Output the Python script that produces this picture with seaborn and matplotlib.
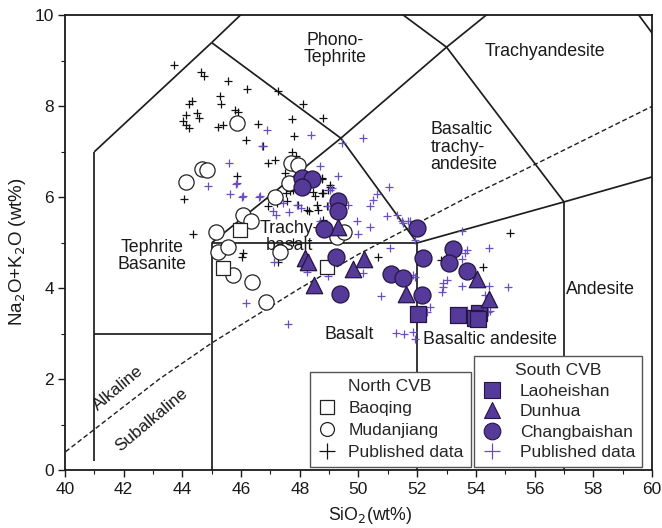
import matplotlib
matplotlib.use("Agg")
import numpy as np
import pandas as pd
import matplotlib.pyplot as plt
import seaborn as sns
from matplotlib.lines import Line2D
from matplotlib.ticker import MultipleLocator

sns.set_style("ticks")
plt.rcParams["font.family"] = ["Liberation Sans", "DejaVu Sans"]

# ---- TAS field boundaries (Le Bas et al., 1986) ----
tas_segments = [
    [(41, 0.2), (41, 7.0)],
    [(41, 3.0), (45, 3.0)],
    [(45, 0.0), (45, 5.0)],
    [(41, 7.0), (45, 9.4)],
    [(45, 9.4), (48.4, 11.5)],
    [(45, 9.4), (49.4, 7.3)],
    [(49.4, 7.3), (53, 9.3)],
    [(53, 9.3), (48.4, 11.5)],
    [(53, 9.3), (57.6, 11.7)],
    [(57.6, 11.7), (63, 7.0)],
    [(45, 5.0), (49.4, 7.3)],
    [(49.4, 7.3), (52, 5.0)],
    [(45, 5.0), (52, 5.0)],
    [(52, 0.0), (52, 5.0)],
    [(52, 5.0), (57, 5.9)],
    [(57, 5.9), (53, 9.3)],
    [(57, 5.9), (63, 7.0)],
    [(57, 0.0), (57, 5.9)],
]

# Alkaline / subalkaline divide (Irvine & Baragar, 1971)
ib_sio2 = [39.2, 40.0, 43.2, 45.0, 48.0, 50.0, 53.7, 55.0, 60.0, 65.0]
ib_alk = [0.0, 0.4, 2.0, 2.8, 4.0, 4.75, 6.0, 6.4, 8.0, 8.8]

# ---- North CVB ----
baoqing_sio2 = [45.96, 45.37, 48.94]
baoqing_alk = [5.29, 4.44, 4.48]

mudanjiang_sio2 = [45.87, 44.66, 44.85, 44.12, 47.69, 47.95, 47.64, 47.15,
                   46.08, 46.34, 45.14, 45.22, 45.56, 45.73, 46.36, 46.84,
                   47.33, 49.26, 49.51]
mudanjiang_alk = [7.63, 6.63, 6.60, 6.33, 6.75, 6.71, 6.31, 6.00,
                  5.62, 5.47, 5.24, 4.81, 4.91, 4.30, 4.13, 3.70,
                  4.79, 5.13, 5.25]

north_pub_sio2 = [43.72, 44.62, 44.74, 45.54, 46.21, 47.25, 48.12, 48.80,
                  44.34, 44.24, 45.28, 45.32, 44.14, 44.49, 44.58, 44.03,
                  44.24, 44.14, 45.79, 45.90, 45.22, 45.39, 46.59, 47.72,
                  47.81, 46.17, 46.76, 47.15, 46.93, 47.72, 47.87, 45.85,
                  44.05, 47.50, 48.77, 49.03, 47.78, 48.52, 48.80, 47.53,
                  46.93, 47.95, 48.58, 47.67, 48.44, 48.75, 48.97, 46.98,
                  47.21, 47.55, 48.23, 48.32, 48.61, 48.94, 48.80, 44.35,
                  46.02, 46.08, 47.27, 47.78, 48.75, 49.03, 50.67, 52.80,
                  54.23, 55.16]
north_pub_alk = [8.90, 8.75, 8.67, 8.56, 8.38, 8.33, 8.05, 7.74,
                 8.11, 8.05, 8.22, 8.05, 7.81, 7.85, 7.74, 7.67,
                 7.52, 7.59, 7.92, 7.87, 7.54, 7.59, 7.62, 7.72,
                 7.35, 7.25, 7.12, 6.82, 6.75, 6.99, 6.91, 6.48,
                 5.96, 6.53, 6.42, 6.27, 6.16, 6.02, 6.09, 6.09,
                 5.80, 5.84, 5.84, 6.13, 6.11, 6.09, 6.16, 5.98,
                 5.87, 5.91, 5.73, 5.71, 5.73, 5.81, 5.51, 5.19,
                 4.70, 4.77, 4.59, 5.03, 6.40, 6.22, 4.69, 4.63,
                 4.47, 5.21]

# ---- South CVB ----
laoheishan_sio2 = [52.02, 53.40, 54.12, 53.98, 54.06]
laoheishan_alk = [3.44, 3.42, 3.45, 3.36, 3.32]

dunhua_sio2 = [49.31, 48.18, 48.29, 49.80, 50.20, 48.48, 51.62, 54.03, 54.46]
dunhua_alk = [5.34, 4.66, 4.57, 4.42, 4.64, 4.08, 3.88, 4.20, 3.76]

changbaishan_sio2 = [48.06, 48.41, 48.06, 49.30, 49.31, 48.82, 49.23, 49.37,
                     51.98, 52.19, 51.10, 51.53, 52.15, 53.23, 53.09, 53.68]
changbaishan_alk = [6.42, 6.40, 6.22, 5.91, 5.69, 5.30, 4.69, 3.87,
                    5.32, 4.66, 4.32, 4.22, 3.86, 4.86, 4.55, 4.39]

south_pub_sio2 = [46.87, 48.40, 49.43, 46.73, 45.60, 44.88, 45.83, 45.62,
                  46.05, 48.69, 49.29, 49.03, 46.64, 47.44, 47.89, 48.97,
                  49.65, 46.02, 49.09, 46.62, 47.19, 47.10, 47.64, 48.03,
                  49.94, 49.99, 49.60, 48.69, 47.12, 48.23, 48.97, 50.14,
                  46.17, 47.61, 47.87, 51.05, 50.64, 50.50, 50.39, 50.96,
                  51.30, 51.70, 51.47, 50.39, 51.07, 51.87, 50.76, 51.28,
                  51.55, 51.87, 51.53, 51.75, 51.92, 53.51, 53.69, 53.63,
                  54.46, 53.51, 53.00, 52.89, 52.89, 52.83, 53.51, 54.46,
                  55.10, 54.31, 51.92, 52.44, 52.32, 54.48, 53.69, 54.42,
                  51.92, 50.16, 45.85]
south_pub_alk = [7.47, 7.37, 7.19, 7.12, 6.75, 6.25, 6.30, 6.07,
                 6.02, 6.68, 6.46, 6.16, 6.02, 5.87, 5.84, 5.80,
                 5.84, 6.00, 6.20, 6.00, 5.62, 5.69, 5.67, 5.76,
                 5.47, 5.20, 5.23, 5.47, 4.59, 4.37, 4.27, 4.33,
                 3.67, 3.22, 6.57, 6.22, 6.08, 5.95, 5.81, 5.58,
                 5.62, 5.47, 5.47, 5.35, 4.88, 4.30, 3.84, 3.03,
                 3.00, 3.05, 5.43, 5.47, 5.07, 5.27, 4.85, 4.77,
                 4.88, 4.64, 4.19, 4.11, 4.03, 3.93, 4.05, 4.05,
                 4.03, 3.86, 4.26, 3.59, 3.49, 3.51, 3.53, 3.49,
                 2.89, 7.30, 6.31]

# ---- field labels ----
field_names = ["Phono-\nTephrite", "Trachyandesite", "Trachy-\nbasalt",
               "Tephrite\nBasanite", "Basalt", "Basaltic andesite", "Andesite"]
field_x = [49.2, 56.35, 47.65, 42.96, 49.7, 54.48, 58.23]
field_y = [9.26, 9.20, 5.12, 4.72, 2.98, 2.87, 3.97]

PURPLE = "#553a9a"
EDGE = "#241640"
LINE = "#1e1e1e"
TXT = "#1a1a1a"

fig = plt.figure(figsize=(6.62, 5.28), dpi=100)
ax = fig.add_axes([0.098, 0.109, 0.887, 0.862])

for seg in tas_segments:
    (x0, y0), (x1, y1) = seg
    ax.plot([x0, x1], [y0, y1], color=LINE, lw=1.25, zorder=1,
            solid_capstyle="butt")
ax.plot(ib_sio2, ib_alk, color=LINE, lw=1.0, ls=(0, (3.5, 2)), zorder=1)

north_pub = pd.DataFrame({"SiO2": north_pub_sio2, "alk": north_pub_alk})
south_pub = pd.DataFrame({"SiO2": south_pub_sio2, "alk": south_pub_alk})
sns.scatterplot(data=north_pub, x="SiO2", y="alk", marker="+", s=40,
                color="#111111", linewidth=0.9, ax=ax, zorder=2, legend=False)
sns.scatterplot(data=south_pub, x="SiO2", y="alk", marker="+", s=40,
                color="#6a4fc0", linewidth=0.9, ax=ax, zorder=2, legend=False)

bq = pd.DataFrame({"SiO2": baoqing_sio2, "alk": baoqing_alk})
mdj = pd.DataFrame({"SiO2": mudanjiang_sio2, "alk": mudanjiang_alk})
sns.scatterplot(data=mdj, x="SiO2", y="alk", marker="o", s=120,
                facecolor="white", edgecolor="#222222", linewidth=0.9,
                ax=ax, zorder=3, legend=False)
sns.scatterplot(data=bq, x="SiO2", y="alk", marker="s", s=110,
                facecolor="white", edgecolor="#222222", linewidth=0.9,
                ax=ax, zorder=3, legend=False)

lhs = pd.DataFrame({"SiO2": laoheishan_sio2, "alk": laoheishan_alk})
dh = pd.DataFrame({"SiO2": dunhua_sio2, "alk": dunhua_alk})
cbs = pd.DataFrame({"SiO2": changbaishan_sio2, "alk": changbaishan_alk})
for df, mk, sz in [(lhs, "s", 130), (dh, "^", 140), (cbs, "o", 150)]:
    sns.scatterplot(data=df, x="SiO2", y="alk", marker=mk, s=sz,
                    color=PURPLE, edgecolor=EDGE, linewidth=0.9,
                    ax=ax, zorder=4, legend=False)

# field names
for name, fx, fy in zip(field_names, field_x, field_y):
    ax.text(fx, fy, name, ha="center", va="center", fontsize=12.8,
            color=TXT, linespacing=1.0, zorder=2)
ax.text(52.45, 7.1, "Basaltic\ntrachy-\nandesite", ha="left", va="center",
        fontsize=12.8, color=TXT, linespacing=1.05, zorder=2)
ax.text(41.8, 1.80, "Alkaline", rotation=40, ha="center", va="center",
        fontsize=12.3, color=TXT, rotation_mode="anchor")
ax.text(42.95, 1.12, "Subalkaline", rotation=40, ha="center", va="center",
        fontsize=12.3, color=TXT, rotation_mode="anchor")

ax.set_xlim(40, 60)
ax.set_ylim(0, 10)
ax.xaxis.set_major_locator(MultipleLocator(2))
ax.xaxis.set_minor_locator(MultipleLocator(1))
ax.yaxis.set_major_locator(MultipleLocator(2))
ax.yaxis.set_minor_locator(MultipleLocator(1))
ax.tick_params(which="major", direction="out", length=5, width=1.0,
               labelsize=12.5, colors=TXT, pad=3)
ax.tick_params(which="minor", direction="out", length=3, width=0.8,
               colors=TXT)
for sp in ax.spines.values():
    sp.set_visible(True)
    sp.set_linewidth(1.3)
    sp.set_color(TXT)
ax.set_xlabel("SiO$_2$(wt%)", fontsize=12.8, color=TXT)
ax.set_ylabel("Na$_2$O+K$_2$O (wt%)", fontsize=13.5, color=TXT)
ax.xaxis.set_label_coords(0.52, -0.075)
ax.yaxis.set_label_coords(-0.063, 0.48)

# legends
north_handles = [
    Line2D([], [], ls="none", marker="s", ms=10, mfc="white", mec="#222222",
           mew=0.9),
    Line2D([], [], ls="none", marker="o", ms=10, mfc="white", mec="#222222",
           mew=0.9),
    Line2D([], [], ls="none", marker="+", ms=11, color="#111111", mew=0.9),
]
south_handles = [
    Line2D([], [], ls="none", marker="s", ms=11, color=PURPLE, mec=EDGE,
           mew=0.8),
    Line2D([], [], ls="none", marker="^", ms=11, color=PURPLE, mec=EDGE,
           mew=0.8),
    Line2D([], [], ls="none", marker="o", ms=12, color=PURPLE, mec=EDGE,
           mew=0.8),
    Line2D([], [], ls="none", marker="+", ms=11, color="#6a4fc0", mew=0.9),
]
leg_kw = dict(fontsize=12.6, title_fontsize=12.6, frameon=True,
              fancybox=False, framealpha=1, edgecolor="#555555",
              handlelength=1.2, borderaxespad=0, borderpad=0.4)
leg1 = ax.legend(north_handles, ["Baoqing", "Mudanjiang", "Published data"],
                 title="North CVB", loc="lower left",
                 bbox_to_anchor=(0.417, 0.007), handletextpad=0.6,
                 labelspacing=0.4, **leg_kw)
leg1.get_frame().set_linewidth(1.0)
ax.add_artist(leg1)
leg2 = ax.legend(south_handles,
                 ["Laoheishan", "Dunhua", "Changbaishan", "Published data"],
                 title="South CVB", loc="lower right",
                 bbox_to_anchor=(0.983, 0.007), handletextpad=1.0,
                 labelspacing=0.3, **leg_kw)
leg2.get_frame().set_linewidth(1.0)
for lg in (leg1, leg2):
    lg.set_zorder(6)

fig.savefig("out.png", dpi=100)
